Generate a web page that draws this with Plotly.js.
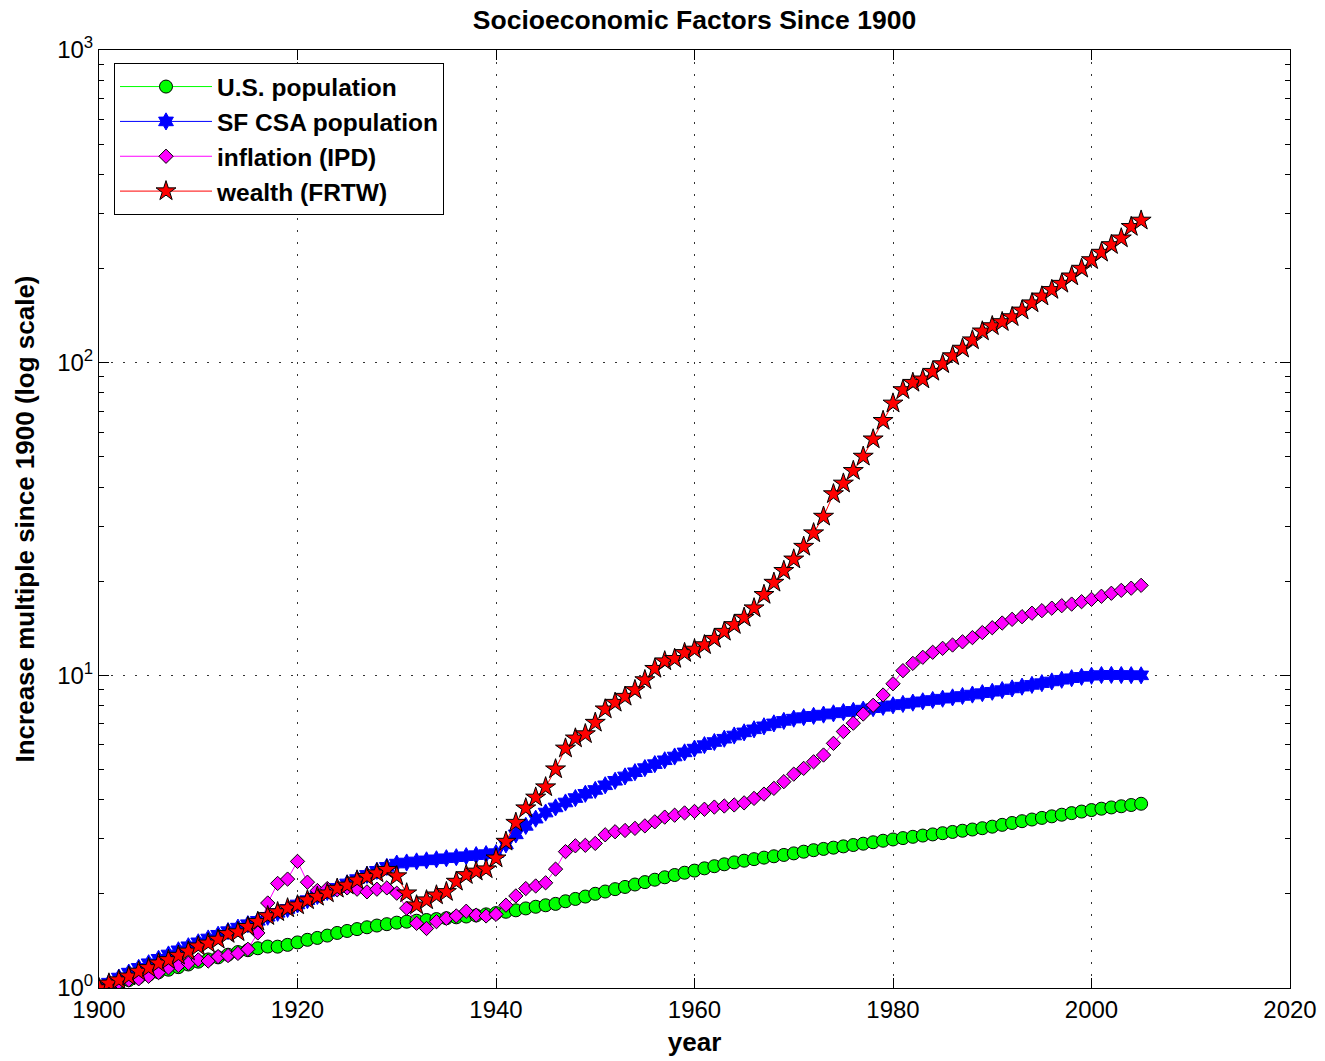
<!DOCTYPE html>
<html>
<head>
<meta charset="utf-8">
<script src="https://cdn.plot.ly/plotly-3.0.1.min.js"></script>
<style>
  html, body { margin: 0; padding: 0; background: #fff; }
  #chart { width: 1325px; height: 1061px; }
</style>
</head>
<body>
<div id="chart"></div>
<script>
// Years covered by every series
const years = [
  1900,1901,1902,1903,1904,1905,1906,1907,1908,1909,
  1910,1911,1912,1913,1914,1915,1916,1917,1918,1919,
  1920,1921,1922,1923,1924,1925,1926,1927,1928,1929,
  1930,1931,1932,1933,1934,1935,1936,1937,1938,1939,
  1940,1941,1942,1943,1944,1945,1946,1947,1948,1949,
  1950,1951,1952,1953,1954,1955,1956,1957,1958,1959,
  1960,1961,1962,1963,1964,1965,1966,1967,1968,1969,
  1970,1971,1972,1973,1974,1975,1976,1977,1978,1979,
  1980,1981,1982,1983,1984,1985,1986,1987,1988,1989,
  1990,1991,1992,1993,1994,1995,1996,1997,1998,1999,
  2000,2001,2002,2003,2004,2005
];

// Increase multiples relative to 1900
const usPopulation = [
  1.000,1.020,1.040,1.060,1.080,1.102,1.123,1.144,1.166,1.189,
  1.214,1.234,1.253,1.278,1.303,1.321,1.340,1.357,1.356,1.374,
  1.399,1.426,1.446,1.471,1.500,1.522,1.543,1.564,1.584,1.600,
  1.618,1.630,1.641,1.650,1.661,1.672,1.683,1.693,1.706,1.720,
  1.736,1.753,1.772,1.797,1.819,1.839,1.858,1.894,1.927,1.961,
  2.001,2.035,2.071,2.105,2.143,2.181,2.220,2.260,2.298,2.337,
  2.374,2.414,2.452,2.487,2.522,2.554,2.583,2.612,2.638,2.664,
  2.695,2.729,2.759,2.785,2.811,2.838,2.866,2.894,2.925,2.958,
  2.986,3.016,3.045,3.073,3.099,3.127,3.156,3.184,3.213,3.244,
  3.281,3.325,3.371,3.416,3.458,3.500,3.540,3.583,3.625,3.667,
  3.708,3.745,3.780,3.813,3.848,3.884
];

const sfCsaPopulation = [
  1.00,1.04,1.08,1.12,1.16,1.20,1.24,1.28,1.32,1.36,
  1.40,1.44,1.48,1.52,1.56,1.60,1.64,1.69,1.74,1.79,
  1.85,1.91,1.97,2.03,2.09,2.16,2.23,2.30,2.37,2.44,
  2.50,2.52,2.54,2.56,2.58,2.60,2.62,2.64,2.66,2.68,
  2.70,2.88,3.10,3.30,3.48,3.64,3.78,3.92,4.05,4.18,
  4.30,4.45,4.60,4.75,4.90,5.05,5.20,5.35,5.50,5.67,
  5.83,5.98,6.12,6.27,6.42,6.57,6.72,6.87,7.02,7.15,
  7.27,7.35,7.42,7.49,7.56,7.63,7.70,7.77,7.85,7.93,
  8.02,8.10,8.18,8.26,8.34,8.42,8.50,8.59,8.68,8.77,
  8.86,8.97,9.08,9.20,9.32,9.44,9.56,9.68,9.79,9.89,
  9.97,10.02,10.03,10.02,10.01,10.00
];

const inflationIPD = [
  1.00,1.01,1.04,1.06,1.07,1.09,1.12,1.16,1.18,1.20,
  1.23,1.22,1.26,1.27,1.29,1.33,1.50,1.87,2.16,2.23,
  2.54,2.18,2.05,2.08,2.06,2.09,2.07,2.03,2.07,2.09,
  2.01,1.80,1.61,1.55,1.63,1.67,1.70,1.76,1.71,1.70,
  1.72,1.84,1.97,2.08,2.12,2.17,2.40,2.73,2.85,2.86,
  2.90,3.09,3.16,3.19,3.24,3.30,3.40,3.52,3.57,3.63,
  3.67,3.73,3.79,3.82,3.85,3.91,4.04,4.17,4.35,4.57,
  4.83,5.04,5.29,5.56,6.06,6.61,7.03,7.52,8.02,8.65,
  9.40,10.35,10.92,11.42,11.85,12.2,12.5,12.8,13.2,13.7,
  14.2,14.7,15.1,15.4,15.8,16.1,16.4,16.7,16.9,17.2,
  17.5,17.9,18.3,18.7,19.0,19.4
];

const wealthFRTW = [
  1.00,1.035,1.06,1.09,1.13,1.16,1.20,1.23,1.27,1.31,
  1.36,1.39,1.43,1.49,1.51,1.57,1.63,1.70,1.75,1.80,
  1.84,1.91,1.96,2.01,2.08,2.13,2.21,2.27,2.33,2.39,
  2.28,2.01,1.84,1.91,1.98,2.03,2.19,2.30,2.36,2.40,
  2.60,2.94,3.38,3.76,4.07,4.39,5.01,5.84,6.29,6.49,
  7.06,7.79,8.18,8.55,8.98,9.66,10.5,11.1,11.3,11.8,
  12.1,12.5,13.1,13.8,14.5,15.3,16.4,18.1,19.8,21.6,
  23.5,25.8,28.5,32.2,38.0,41.1,45.1,50.1,56.9,65.2,
  74.1,81.8,86.3,88.5,93.6,99.0,105,111,118,126,
  131,135,140,147,155,163,171,179,189,200,
  213,225,238,250,272,285
];

const seriesNames = ['U.S. population', 'SF CSA population', 'inflation (IPD)', 'wealth (FRTW)'];

const yTickVals = [1, 10, 100, 1000];
const yTickText = ['10<sup>0</sup>', '10<sup>1</sup>', '10<sup>2</sup>', '10<sup>3</sup>'];
const xTickVals = [1900, 1920, 1940, 1960, 1980, 2000, 2020];

const FONT = 'Liberation Sans, Arial, Helvetica, sans-serif';

function series(y, name, lineColor, symbol, size, fill, edge) {
  return {
    type: 'scatter',
    mode: 'lines+markers',
    x: years,
    y: y,
    name: name,
    line: { color: lineColor, width: 1 },
    marker: { symbol: symbol, size: size, color: fill, line: { color: edge, width: 1 } }
  };
}

const traces = [
  series(usPopulation, seriesNames[0], '#00ff00', 'circle', 13, '#00ff00', '#000000'),
  series(sfCsaPopulation, seriesNames[1], '#0000ff', 'hexagram', 13, '#0000ff', '#0000ff'),
  series(inflationIPD, seriesNames[2], '#ff00ff', 'diamond', 11, '#ff00ff', '#000000'),
  series(wealthFRTW, seriesNames[3], '#ff0000', 'star', 15, '#ff0000', '#000000')
];

const axisCommon = {
  showline: true,
  linecolor: '#000',
  linewidth: 1,
  mirror: 'allticks',
  ticks: 'inside',
  ticklen: 10,
  tickwidth: 1,
  tickcolor: '#000',
  showgrid: true,
  gridcolor: '#333',
  gridwidth: 1,
  griddash: '2px,10px',
  zeroline: false,
  tickfont: { family: FONT, size: 24, color: '#000' }
};

const layout = {
  width: 1325,
  height: 1061,
  paper_bgcolor: '#fff',
  plot_bgcolor: '#fff',
  margin: { l: 99, r: 35, t: 50, b: 73 },
  showlegend: true,
  title: {
    text: 'Socioeconomic Factors Since 1900',
    font: { family: FONT, size: 26.5, weight: 'bold', color: '#000' },
    xref: 'paper', x: 0.5, xanchor: 'center',
    yref: 'container', y: 0.981, yanchor: 'middle'
  },
  xaxis: Object.assign({}, axisCommon, {
    range: [1900, 2020],
    tickmode: 'array',
    tickvals: xTickVals,
    title: { text: 'year', font: { family: FONT, size: 26, weight: 'bold', color: '#000' }, standoff: 11 }
  }),
  yaxis: Object.assign({}, axisCommon, {
    type: 'log',
    range: [0, 3],
    tickmode: 'array',
    tickvals: yTickVals,
    ticktext: yTickText,
    minor: { ticks: 'inside', ticklen: 5, tickwidth: 1, tickcolor: '#000', dtick: 'D1', showgrid: false },
    title: { text: 'Increase multiple since 1900 (log scale)', font: { family: FONT, size: 26, weight: 'bold', color: '#000' }, standoff: 15 }
  }),
  legend: {
    x: 0.0126, y: 0.986, xanchor: 'left', yanchor: 'top',
    bgcolor: '#fff',
    bordercolor: '#000',
    borderwidth: 1,
    itemwidth: 92,
    tracegroupgap: 0,
    font: { family: FONT, size: 24.5, weight: 'bold', color: '#000' }
  }
};

Plotly.newPlot('chart', traces, layout, { displayModeBar: false, staticPlot: true });
</script>
</body>
</html>
